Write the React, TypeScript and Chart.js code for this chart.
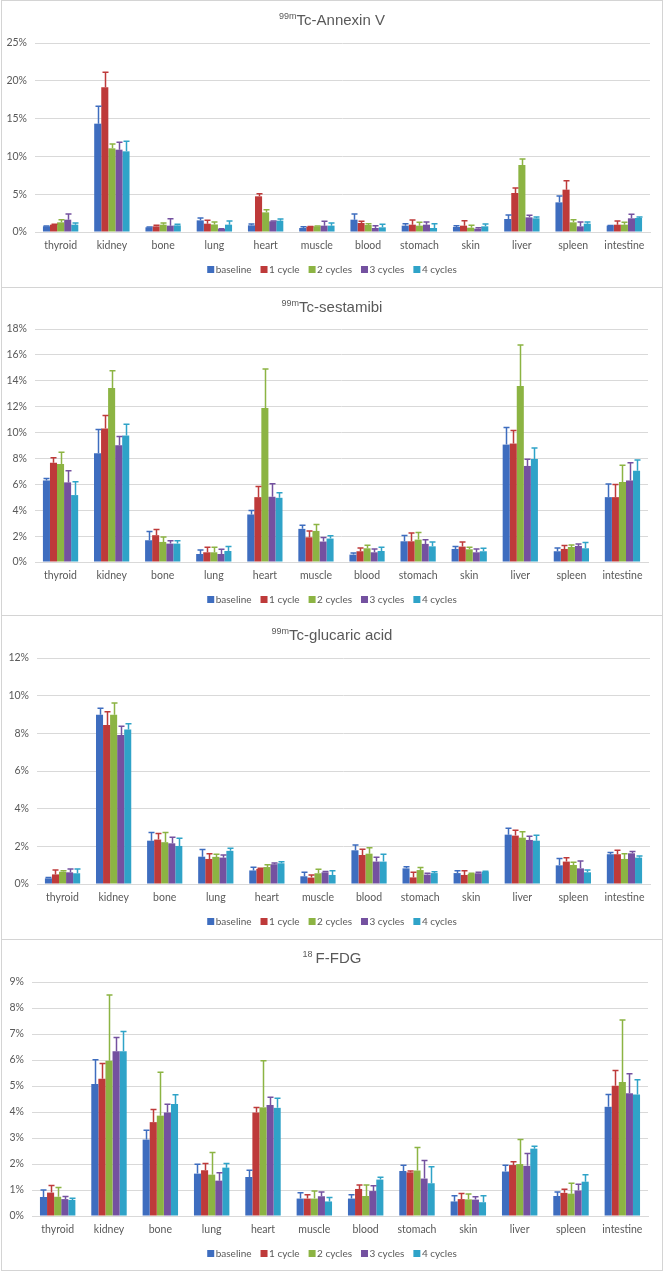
import React, { useEffect, useRef } from 'react';
import { Chart, registerables } from 'chart.js';

Chart.register(...registerables);

const organs = ['thyroid', 'kidney', 'bone', 'lung', 'heart', 'muscle', 'blood', 'stomach', 'skin', 'liver', 'spleen', 'intestine'];
const seriesNames = ['baseline', '1 cycle', '2 cycles', '3 cycles', '4 cycles'];
const seriesColors = ['#3E6DBF', '#BE3A3A', '#8CB443', '#7451A0', '#2FA3C8'];

// 99mTc-Annexin V (%)
const annexinBaseline = [0.75, 14.33, 0.62, 1.54, 0.88, 0.53, 1.63, 0.84, 0.66, 1.72, 3.92, 0.84];
const annexinBaselineErr = [0.05, 2.3, 0.05, 0.31, 0.18, 0.17, 0.75, 0.26, 0.18, 0.53, 0.84, 0.03];
const annexin1 = [0.97, 19.14, 0.75, 1.1, 4.72, 0.7, 1.19, 0.97, 0.84, 5.16, 5.6, 0.97];
const annexin1Err = [0.05, 2.0, 0.13, 0.44, 0.35, 0.02, 0.22, 0.62, 0.66, 0.66, 1.19, 0.48];
const annexin2 = [1.28, 11.07, 0.97, 1.0, 2.6, 0.75, 0.93, 0.84, 0.57, 8.86, 1.28, 0.97];
const annexin2Err = [0.35, 0.57, 0.23, 0.32, 0.35, 0.03, 0.17, 0.44, 0.31, 0.8, 0.35, 0.31];
const annexin3 = [1.63, 10.89, 0.84, 0.4, 1.41, 0.84, 0.53, 0.97, 0.44, 1.94, 0.75, 1.81];
const annexin3Err = [0.75, 0.97, 0.92, 0.02, 0.05, 0.57, 0.31, 0.35, 0.13, 0.26, 0.57, 0.53];
const annexin4 = [0.97, 10.67, 0.88, 0.97, 1.5, 0.84, 0.62, 0.53, 0.75, 1.81, 1.1, 1.85];
const annexin4Err = [0.22, 1.32, 0.15, 0.48, 0.22, 0.36, 0.4, 0.57, 0.31, 0.18, 0.22, 0.13];

// 99mTc-sestamibi (%)
const sestaBaseline = [6.3, 8.4, 1.68, 0.62, 3.67, 2.56, 0.57, 1.6, 1.01, 9.07, 0.83, 5.01];
const sestaBaselineErr = [0.15, 1.83, 0.67, 0.31, 0.31, 0.28, 0.13, 0.44, 0.18, 1.32, 0.26, 1.01];
const sesta1 = [7.67, 10.31, 2.07, 0.75, 5.01, 1.91, 0.83, 1.6, 1.19, 9.15, 1.01, 5.01];
const sesta1Err = [0.39, 1.01, 0.44, 0.39, 0.83, 0.49, 0.26, 0.65, 0.36, 1.01, 0.26, 0.98];
const sesta2 = [7.57, 13.44, 1.55, 0.75, 11.89, 2.4, 1.06, 1.73, 0.98, 13.59, 1.16, 6.18];
const sesta2Err = [0.9, 1.34, 0.39, 0.39, 3.02, 0.49, 0.23, 0.54, 0.16, 3.18, 0.16, 1.29];
const sesta3 = [6.15, 9.02, 1.42, 0.62, 5.04, 1.58, 0.75, 1.4, 0.75, 7.42, 1.24, 6.3];
const sesta3Err = [0.9, 0.67, 0.23, 0.36, 1.01, 0.31, 0.26, 0.31, 0.26, 0.51, 0.16, 1.37];
const sesta4 = [5.17, 9.77, 1.42, 0.85, 4.96, 1.81, 0.85, 1.21, 0.83, 7.96, 1.06, 7.05];
const sesta4Err = [1.03, 0.88, 0.23, 0.34, 0.39, 0.21, 0.29, 0.34, 0.23, 0.85, 0.44, 0.83];

// 99mTc-glucaric acid (%)
const glucBaseline = [0.3, 8.99, 2.3, 1.45, 0.72, 0.41, 1.79, 0.83, 0.58, 2.62, 0.99, 1.58];
const glucBaselineErr = [0.05, 0.34, 0.43, 0.38, 0.17, 0.21, 0.28, 0.09, 0.13, 0.34, 0.36, 0.09];
const gluc1 = [0.51, 8.44, 2.36, 1.33, 0.8, 0.34, 1.54, 0.35, 0.48, 2.57, 1.19, 1.58];
const gluc1Err = [0.23, 0.71, 0.32, 0.27, 0.04, 0.14, 0.3, 0.27, 0.23, 0.28, 0.21, 0.21];
const gluc2 = [0.65, 8.99, 2.22, 1.44, 0.9, 0.57, 1.61, 0.74, 0.53, 2.46, 1.01, 1.33];
const gluc2Err = [0.06, 0.62, 0.51, 0.14, 0.12, 0.21, 0.32, 0.14, 0.04, 0.31, 0.14, 0.28];
const gluc3 = [0.62, 7.91, 2.16, 1.4, 1.05, 0.62, 1.19, 0.5, 0.57, 2.34, 0.83, 1.63];
const gluc3Err = [0.18, 0.46, 0.32, 0.14, 0.06, 0.05, 0.23, 0.07, 0.05, 0.2, 0.39, 0.09];
const gluc4 = [0.57, 8.21, 2.02, 1.76, 1.1, 0.48, 1.19, 0.58, 0.65, 2.3, 0.62, 1.4];
const gluc4Err = [0.23, 0.3, 0.41, 0.14, 0.08, 0.23, 0.39, 0.07, 0.03, 0.29, 0.12, 0.09];

// 18F-FDG (%)
const fdgBaseline = [0.73, 5.08, 2.94, 1.63, 1.5, 0.67, 0.67, 1.73, 0.56, 1.71, 0.77, 4.2];
const fdgBaselineErr = [0.27, 0.93, 0.36, 0.36, 0.26, 0.22, 0.15, 0.22, 0.22, 0.24, 0.15, 0.47];
const fdg1 = [0.9, 5.28, 3.61, 1.76, 3.98, 0.67, 1.04, 1.68, 0.65, 1.96, 0.89, 5.01];
const fdg1Err = [0.27, 0.59, 0.49, 0.26, 0.19, 0.15, 0.15, 0.05, 0.22, 0.13, 0.14, 0.59];
const fdg2 = [0.74, 5.97, 3.86, 1.59, 4.18, 0.67, 0.77, 1.75, 0.64, 2.0, 0.86, 5.15];
const fdg2Err = [0.36, 2.53, 1.67, 0.85, 1.79, 0.29, 0.42, 0.88, 0.21, 0.94, 0.4, 2.39];
const fdg3 = [0.65, 6.34, 3.98, 1.36, 4.27, 0.76, 0.96, 1.44, 0.63, 1.93, 0.98, 4.72];
const fdg3Err = [0.1, 0.53, 0.32, 0.3, 0.3, 0.16, 0.2, 0.69, 0.11, 0.47, 0.24, 0.75];
const fdg4 = [0.62, 6.34, 4.31, 1.86, 4.16, 0.56, 1.4, 1.26, 0.53, 2.59, 1.32, 4.67];
const fdg4Err = [0.06, 0.76, 0.35, 0.16, 0.37, 0.15, 0.09, 0.63, 0.25, 0.09, 0.27, 0.57];

const TEXT_COLOR = '#595959';
const GRID_COLOR = '#D9D9D9';
const TICK_FONT = 'Lato, "Open Sans", sans-serif';
const TITLE_FONT = '"Liberation Sans", Arial, sans-serif';

type PanelCfg = {
  sup: string;
  title: string;
  gap: number;
  means: number[][];
  errs: number[][];
  max: number;
  step: number;
  top: number;
  height: number;
  areaTop: number;
  areaBottom: number;
  areaLeft: number;
  areaRight: number;
  titleY: number;
};

const panels: PanelCfg[] = [
  {
    sup: '99m', title: 'Tc-Annexin V', gap: 0,
    means: [annexinBaseline, annexin1, annexin2, annexin3, annexin4],
    errs: [annexinBaselineErr, annexin1Err, annexin2Err, annexin3Err, annexin4Err],
    max: 25, step: 5, top: 0, height: 288,
    areaTop: 42, areaBottom: 231, areaLeft: 33, areaRight: 648, titleY: 19,
  },
  {
    sup: '99m', title: 'Tc-sestamibi', gap: 0,
    means: [sestaBaseline, sesta1, sesta2, sesta3, sesta4],
    errs: [sestaBaselineErr, sesta1Err, sesta2Err, sesta3Err, sesta4Err],
    max: 18, step: 2, top: 287, height: 329,
    areaTop: 41, areaBottom: 274, areaLeft: 33, areaRight: 646, titleY: 19,
  },
  {
    sup: '99m', title: 'Tc-glucaric acid', gap: 0,
    means: [glucBaseline, gluc1, gluc2, gluc3, gluc4],
    errs: [glucBaselineErr, gluc1Err, gluc2Err, gluc3Err, gluc4Err],
    max: 12, step: 2, top: 615, height: 325,
    areaTop: 42, areaBottom: 268, areaLeft: 35, areaRight: 648, titleY: 19,
  },
  {
    sup: '18', title: 'F-FDG', gap: 3,
    means: [fdgBaseline, fdg1, fdg2, fdg3, fdg4],
    errs: [fdgBaselineErr, fdg1Err, fdg2Err, fdg3Err, fdg4Err],
    max: 9, step: 1, top: 939, height: 332,
    areaTop: 42, areaBottom: 276, areaLeft: 30, areaRight: 646, titleY: 18,
  },
];

const CANVAS_W = 660;

function Panel({ cfg }: { cfg: PanelCfg }) {
  const ref = useRef<HTMLCanvasElement>(null);
  useEffect(() => {
    const canvasH = cfg.height - 2;
    const xAxisH = 28;

    const errorBars = {
      id: 'errorBars',
      afterDatasetsDraw(chart: any) {
        const ctx = chart.ctx;
        const y = chart.scales.y;
        chart.data.datasets.forEach((ds: any, i: number) => {
          const meta = chart.getDatasetMeta(i);
          meta.data.forEach((bar: any, j: number) => {
            const v = ds.data[j];
            const e = ds.errors[j];
            const yb = y.getPixelForValue(v);
            const yt = y.getPixelForValue(v + e);
            const x = Math.round(bar.x) + 0.5;
            ctx.save();
            ctx.strokeStyle = ds.backgroundColor;
            ctx.lineWidth = 1.5;
            ctx.beginPath();
            ctx.moveTo(x, yb);
            ctx.lineTo(x, yt);
            ctx.moveTo(x - 3, yt);
            ctx.lineTo(x + 3, yt);
            ctx.stroke();
            ctx.restore();
          });
        });
      },
    };

    const titlePlugin = {
      id: 'supTitle',
      afterDraw(chart: any) {
        const ctx = chart.ctx;
        ctx.save();
        ctx.fillStyle = TEXT_COLOR;
        ctx.textBaseline = 'alphabetic';
        ctx.font = `9px ${TITLE_FONT}`;
        const ws = ctx.measureText(cfg.sup).width;
        ctx.font = `15px ${TITLE_FONT}`;
        const wm = ctx.measureText(cfg.title).width;
        const total = ws + cfg.gap + wm;
        const x0 = chart.width / 2 - total / 2;
        const base = cfg.titleY + 5;
        ctx.font = `9px ${TITLE_FONT}`;
        ctx.fillText(cfg.sup, x0, base - 6);
        ctx.font = `15px ${TITLE_FONT}`;
        ctx.fillText(cfg.title, x0 + ws + cfg.gap, base);
        ctx.restore();
      },
    };

    const legendPlugin = {
      id: 'customLegend',
      afterDraw(chart: any) {
        const ctx = chart.ctx;
        ctx.save();
        ctx.font = `10px ${TICK_FONT}`;
        const box = 7;
        const boxGap = 1.5;
        const itemGap = 9;
        const widths = seriesNames.map((n) => ctx.measureText(n).width);
        const total = widths.reduce((a, w) => a + box + boxGap + w, 0) + itemGap * (seriesNames.length - 1);
        let x = chart.width / 2 - total / 2;
        const cy = chart.chartArea.bottom + 37;
        ctx.textBaseline = 'middle';
        seriesNames.forEach((n, i) => {
          ctx.fillStyle = seriesColors[i];
          ctx.fillRect(x, cy - box / 2 + 0.5, box, box);
          x += box + boxGap;
          ctx.fillStyle = TEXT_COLOR;
          ctx.fillText(n, x, cy + 1);
          x += widths[i] + itemGap;
        });
        ctx.restore();
      },
    };

    const chart = new Chart(ref.current!, {
      type: 'bar',
      data: {
        labels: organs,
        datasets: seriesNames.map((name, i) => ({
          label: name,
          data: cfg.means[i],
          errors: cfg.errs[i],
          backgroundColor: seriesColors[i],
          borderWidth: 0,
          barPercentage: 1,
          categoryPercentage: 0.69,
        })) as any,
      },
      options: {
        responsive: false,
        animation: false,
        devicePixelRatio: 1,
        layout: {
          padding: {
            top: cfg.areaTop,
            bottom: canvasH - cfg.areaBottom - xAxisH,
            left: 0,
            right: CANVAS_W - cfg.areaRight,
          },
        },
        plugins: {
          legend: { display: false },
          title: { display: false },
          tooltip: { enabled: false },
        },
        scales: {
          x: {
            grid: { display: false, drawTicks: false },
            border: { display: true, color: GRID_COLOR, width: 1 },
            ticks: {
              color: TEXT_COLOR,
              font: { family: TICK_FONT, size: 10.5 },
              padding: 7,
              maxRotation: 0,
              autoSkip: false,
            },
            afterFit(scale: any) {
              scale.height = xAxisH;
            },
          },
          y: {
            min: 0,
            max: cfg.max,
            grid: { color: GRID_COLOR, lineWidth: 1, drawTicks: false },
            border: { display: false },
            ticks: {
              stepSize: cfg.step,
              color: TEXT_COLOR,
              font: { family: TICK_FONT, size: 10.5 },
              padding: 8,
              callback: (v: any) => `${v}%`,
            },
            afterFit(scale: any) {
              scale.width = cfg.areaLeft;
            },
          },
        },
      },
      plugins: [errorBars, titlePlugin, legendPlugin],
    } as any);
    return () => chart.destroy();
  }, [cfg]);

  return (
    <div
      style={{
        position: 'absolute',
        left: 1,
        top: cfg.top,
        width: 662,
        height: cfg.height,
        boxSizing: 'border-box',
        border: '1px solid #D4D4D4',
        background: '#FFFFFF',
      }}
    >
      <canvas ref={ref} width={CANVAS_W} height={cfg.height - 2} style={{ display: 'block' }} />
    </div>
  );
}

export default function App() {
  return (
    <div style={{ position: 'absolute', left: 0, top: 0, width: 664, height: 1271, background: '#FFFFFF' }}>
      {panels.map((p, i) => (
        <Panel key={i} cfg={p} />
      ))}
    </div>
  );
}
